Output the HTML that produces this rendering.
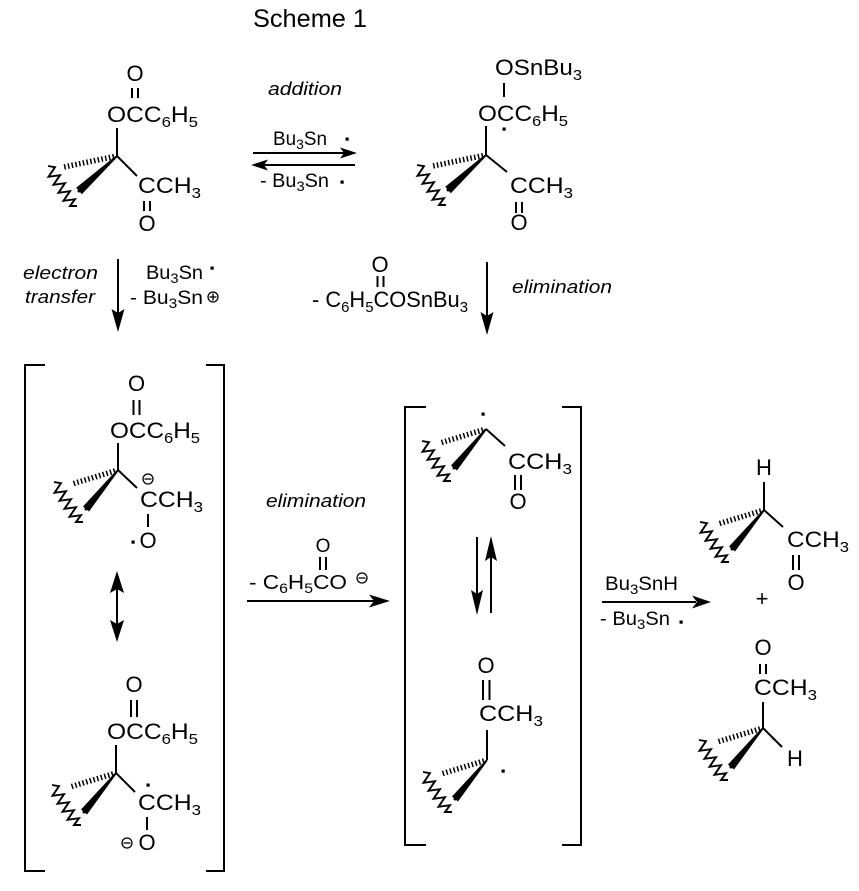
<!DOCTYPE html>
<html>
<head>
<meta charset="utf-8">
<style>
  html,body{margin:0;padding:0;background:#fff;}
  svg{display:block;}
  text{font-family:"Liberation Sans",Arial,sans-serif;fill:#000;}
  .m{font-size:22px;}
  .r{font-size:19px;}
  .i{font-size:18px;font-style:italic;}
  .t{font-size:25px;}
</style>
</head>
<body>
<svg width="859" height="891" viewBox="0 0 859 891" xmlns="http://www.w3.org/2000/svg">
<defs>
  <path id="wavy" d="M0,0 L7.0,1.2 L0.5,10.8 L12.0,9.2 L5.5,18.8 L17.0,17.2 L10.5,26.8 L22.0,25.2 L15.5,34.8 L27.0,33.2 L22,40 L29,40" fill="none" stroke="#000" stroke-width="1.9" stroke-linejoin="miter"/>
  <g id="st">
    <line x1="-3" y1="0.9" x2="-46" y2="14" stroke="#000" stroke-width="5.5" stroke-dasharray="1.5 2.3"/>
    <polygon points="0.7,0.6 -0.7,-0.6 -35.0,36.5 -29.0,41.5" fill="#000"/>
    <circle cx="-32" cy="39" r="1.5" fill="#000"/>
    <use href="#wavy" x="-64" y="12"/>
  </g>
  <g id="st2">
    <line x1="-3" y1="0.6" x2="-53" y2="11" stroke="#000" stroke-width="5.5" stroke-dasharray="1.5 2.3"/>
    <polygon points="0.7,0.6 -0.7,-0.6 -40.8,31.8 -35.2,38.2" fill="#000"/>
    <circle cx="-38" cy="35" r="1.5" fill="#000"/>
    <use href="#wavy" x="-69" y="10"/>
  </g>
</defs>

<g stroke="#000" stroke-width="2" fill="none">
  <!-- top-left bonds -->
  <line x1="132" y1="88" x2="132" y2="98"/><line x1="138" y1="88" x2="138" y2="98"/>
  <line x1="117" y1="128" x2="117" y2="156"/>
  <line x1="117" y1="156" x2="137" y2="176"/>
  <line x1="144" y1="201" x2="144" y2="211"/><line x1="150" y1="201" x2="150" y2="211"/>
  <!-- top-right bonds -->
  <line x1="504" y1="83" x2="504" y2="97"/>
  <line x1="486" y1="126" x2="486" y2="155"/>
  <line x1="486" y1="155" x2="507" y2="172"/>
  <line x1="516" y1="202" x2="516" y2="213"/><line x1="522" y1="202" x2="522" y2="213"/>
  <!-- middle top reagent double bond -->
  <line x1="377.5" y1="276" x2="377.5" y2="287"/><line x1="383.5" y1="276" x2="383.5" y2="287"/>
  <!-- left bracket upper -->
  <line x1="133.5" y1="400" x2="133.5" y2="415"/><line x1="139.5" y1="400" x2="139.5" y2="415"/>
  <line x1="118" y1="443" x2="118" y2="470"/>
  <line x1="118" y1="470" x2="137" y2="488"/>
  <line x1="148" y1="514" x2="148" y2="527"/>
  <!-- left bracket lower -->
  <line x1="131" y1="700" x2="131" y2="717"/><line x1="137" y1="700" x2="137" y2="717"/>
  <line x1="116" y1="745" x2="116" y2="773"/>
  <line x1="116" y1="773" x2="135" y2="792"/>
  <line x1="147" y1="817" x2="147" y2="830"/>
  <!-- elimination reagent double bond -->
  <line x1="320" y1="557" x2="320" y2="570"/><line x1="326" y1="557" x2="326" y2="570"/>
  <!-- middle upper -->
  <line x1="486" y1="429" x2="505" y2="446"/>
  <line x1="515" y1="475" x2="515" y2="490"/><line x1="521" y1="475" x2="521" y2="490"/>
  <!-- middle lower -->
  <line x1="483" y1="680" x2="483" y2="700"/><line x1="489.5" y1="680" x2="489.5" y2="700"/>
  <line x1="487" y1="730" x2="487" y2="760"/>
  <!-- right top -->
  <line x1="764" y1="482" x2="764" y2="510"/>
  <line x1="764" y1="510" x2="783" y2="527"/>
  <line x1="793" y1="555" x2="793" y2="570"/><line x1="799" y1="555" x2="799" y2="570"/>
  <!-- right bottom -->
  <line x1="760" y1="664" x2="760" y2="674"/><line x1="766" y1="664" x2="766" y2="674"/>
  <line x1="763" y1="702" x2="763" y2="728"/>
  <line x1="763" y1="728" x2="782" y2="747"/>

  <!-- brackets -->
  <polyline points="45,365 25,365 25,871 45,871"/>
  <polyline points="206,365 224,365 224,871 206,871"/>
  <polyline points="426,407 405,407 405,845 426,845"/>
  <polyline points="562,407 581,407 581,845 562,845"/>

  <!-- arrows lines -->
  <line x1="253" y1="153" x2="345" y2="153"/>
  <line x1="264" y1="165" x2="355" y2="165"/>
  <line x1="118" y1="259" x2="118" y2="314"/>
  <line x1="487" y1="262" x2="487" y2="316"/>
  <line x1="117" y1="588" x2="117" y2="624"/>
  <line x1="247" y1="601" x2="375" y2="601"/>
  <line x1="477" y1="537" x2="477" y2="595"/>
  <line x1="491" y1="557" x2="491" y2="613"/>
  <line x1="602" y1="602" x2="696" y2="602"/>
</g>

<!-- arrowheads -->
<g fill="#000">
  <polygon points="357,153 340,147.5 344,153 340,158.5"/>
  <polygon points="251,165 268,159.5 264,165 268,170.5"/>
  <polygon points="118,332 111.5,309 118,313 124.5,309"/>
  <polygon points="487,335 480.5,312 487,316 493.5,312"/>
  <polygon points="117,571 110,593 117,589 124,593"/>
  <polygon points="117,642 110,620 117,624 124,620"/>
  <polygon points="390,601 369,594.5 374,601 369,607.5"/>
  <polygon points="477,615 471,590 477,594 483,590"/>
  <polygon points="491,536 485,561 491,557 497,561"/>
  <polygon points="711,602 692,595.5 697,602 692,608.5"/>
</g>

<!-- stereocenters -->
<use href="#st2" x="117" y="156"/>
<use href="#st2" x="486" y="155"/>
<use href="#st" x="118" y="470"/>
<use href="#st" x="116" y="773"/>
<use href="#st" x="486" y="429"/>
<use href="#st" x="487" y="760"/>
<use href="#st" x="764" y="510"/>
<use href="#st" x="763" y="728"/>

<!-- radical dots -->
<g fill="#000">
  <rect x="345.5" y="137.5" width="3.2" height="3.2"/>
  <rect x="340.5" y="180.5" width="3.2" height="3.2"/>
  <rect x="502.5" y="127.5" width="3.2" height="3.2"/>
  <rect x="210.5" y="266.5" width="3.2" height="3.2"/>
  <rect x="131.5" y="540.5" width="3.2" height="3.2"/>
  <rect x="146.5" y="783.5" width="3.2" height="3.2"/>
  <rect x="481.5" y="412.5" width="3.2" height="3.2"/>
  <rect x="501.5" y="769.5" width="3.2" height="3.2"/>
  <rect x="679.5" y="620.5" width="3.2" height="3.2"/>
</g>

<!-- charges -->
<g fill="none" stroke="#000" stroke-width="1.3">
  <circle cx="213" cy="297" r="5"/>
  <line x1="209.5" y1="297" x2="216.5" y2="297"/><line x1="213" y1="293.5" x2="213" y2="300.5"/>
  <circle cx="148" cy="479" r="5"/>
  <line x1="144.5" y1="479" x2="151.5" y2="479"/>
  <circle cx="127" cy="843" r="5"/>
  <line x1="123.5" y1="843" x2="130.5" y2="843"/>
  <circle cx="362" cy="578" r="5"/>
  <line x1="358.5" y1="578" x2="365.5" y2="578"/>
</g>

<!-- title -->
<text class="t" x="253" y="27" textLength="114" lengthAdjust="spacingAndGlyphs">Scheme 1</text>

<!-- italic labels -->
<text class="i" x="268" y="95" textLength="74" lengthAdjust="spacingAndGlyphs">addition</text>
<text class="i" x="23" y="279" textLength="75" lengthAdjust="spacingAndGlyphs">electron</text>
<text class="i" x="25" y="303" textLength="70" lengthAdjust="spacingAndGlyphs">transfer</text>
<text class="i" x="512" y="293" textLength="100" lengthAdjust="spacingAndGlyphs">elimination</text>
<text class="i" x="266" y="507" textLength="100" lengthAdjust="spacingAndGlyphs">elimination</text>

<!-- reagent labels -->
<text class="r" x="273" y="145" textLength="54" lengthAdjust="spacingAndGlyphs">Bu<tspan font-size="14" dy="4">3</tspan><tspan dy="-4">Sn</tspan></text>
<text class="r" x="260" y="187" textLength="69" lengthAdjust="spacingAndGlyphs">- Bu<tspan font-size="14" dy="4">3</tspan><tspan dy="-4">Sn</tspan></text>
<text class="r" x="146" y="279" textLength="57" lengthAdjust="spacingAndGlyphs">Bu<tspan font-size="14" dy="4">3</tspan><tspan dy="-4">Sn</tspan></text>
<text class="r" x="130" y="304" textLength="73" lengthAdjust="spacingAndGlyphs">- Bu<tspan font-size="14" dy="4">3</tspan><tspan dy="-4">Sn</tspan></text>
<text class="r" x="605" y="590" textLength="73" lengthAdjust="spacingAndGlyphs">Bu<tspan font-size="14" dy="4">3</tspan><tspan dy="-4">SnH</tspan></text>
<text class="r" x="600" y="625" textLength="70" lengthAdjust="spacingAndGlyphs">- Bu<tspan font-size="14" dy="4">3</tspan><tspan dy="-4">Sn</tspan></text>

<text class="m" x="380" y="272" text-anchor="middle">O</text>
<text class="m" x="312" y="307" textLength="156" lengthAdjust="spacingAndGlyphs">- C<tspan font-size="15" dy="5">6</tspan><tspan dy="-5">H</tspan><tspan font-size="15" dy="5">5</tspan><tspan dy="-5">COSnBu</tspan><tspan font-size="15" dy="5">3</tspan></text>

<text x="323" y="552" font-size="19" text-anchor="middle">O</text>
<text x="249" y="589" font-size="20" textLength="98" lengthAdjust="spacingAndGlyphs">- C<tspan font-size="14" dy="4">6</tspan><tspan dy="-4">H</tspan><tspan font-size="14" dy="4">5</tspan><tspan dy="-4">CO</tspan></text>

<text x="762" y="606" font-size="22" text-anchor="middle">+</text>

<!-- top-left structure -->
<text class="m" x="135" y="81" text-anchor="middle">O</text>
<text class="m" x="107" y="122" textLength="91" lengthAdjust="spacingAndGlyphs">OCC<tspan font-size="15" dy="5">6</tspan><tspan dy="-5">H</tspan><tspan font-size="15" dy="5">5</tspan></text>
<text class="m" x="138" y="193" textLength="63" lengthAdjust="spacingAndGlyphs">CCH<tspan font-size="15" dy="5">3</tspan></text>
<text class="m" x="147" y="231" text-anchor="middle">O</text>

<!-- top-right structure -->
<text class="m" x="495" y="75" textLength="87" lengthAdjust="spacingAndGlyphs">OSnBu<tspan font-size="15" dy="5">3</tspan></text>
<text class="m" x="478" y="121" textLength="90" lengthAdjust="spacingAndGlyphs">OCC<tspan font-size="15" dy="5">6</tspan><tspan dy="-5">H</tspan><tspan font-size="15" dy="5">5</tspan></text>
<text class="m" x="510" y="193" textLength="63" lengthAdjust="spacingAndGlyphs">CCH<tspan font-size="15" dy="5">3</tspan></text>
<text class="m" x="519" y="230" text-anchor="middle">O</text>

<!-- left bracket upper -->
<text class="m" x="136.5" y="391" text-anchor="middle">O</text>
<text class="m" x="110" y="438" textLength="90" lengthAdjust="spacingAndGlyphs">OCC<tspan font-size="15" dy="5">6</tspan><tspan dy="-5">H</tspan><tspan font-size="15" dy="5">5</tspan></text>
<text class="m" x="140" y="507" textLength="63" lengthAdjust="spacingAndGlyphs">CCH<tspan font-size="15" dy="5">3</tspan></text>
<text class="m" x="148" y="548" text-anchor="middle">O</text>

<!-- left bracket lower -->
<text class="m" x="134" y="692" text-anchor="middle">O</text>
<text class="m" x="107" y="739" textLength="91" lengthAdjust="spacingAndGlyphs">OCC<tspan font-size="15" dy="5">6</tspan><tspan dy="-5">H</tspan><tspan font-size="15" dy="5">5</tspan></text>
<text class="m" x="138" y="810" textLength="63" lengthAdjust="spacingAndGlyphs">CCH<tspan font-size="15" dy="5">3</tspan></text>
<text class="m" x="147" y="850" text-anchor="middle">O</text>

<!-- middle upper -->
<text class="m" x="508" y="469" textLength="64" lengthAdjust="spacingAndGlyphs">CCH<tspan font-size="15" dy="5">3</tspan></text>
<text class="m" x="518" y="509" text-anchor="middle">O</text>

<!-- middle lower -->
<text class="m" x="486" y="673" text-anchor="middle">O</text>
<text class="m" x="479" y="721" textLength="64" lengthAdjust="spacingAndGlyphs">CCH<tspan font-size="15" dy="5">3</tspan></text>

<!-- right top -->
<text class="m" x="764" y="475" text-anchor="middle">H</text>
<text class="m" x="787" y="547" textLength="62" lengthAdjust="spacingAndGlyphs">CCH<tspan font-size="15" dy="5">3</tspan></text>
<text class="m" x="796" y="590" text-anchor="middle">O</text>

<!-- right bottom -->
<text class="m" x="763" y="655" text-anchor="middle">O</text>
<text class="m" x="754" y="695" textLength="63" lengthAdjust="spacingAndGlyphs">CCH<tspan font-size="15" dy="5">3</tspan></text>
<text class="m" x="795" y="766" text-anchor="middle">H</text>
</svg>
</body>
</html>
